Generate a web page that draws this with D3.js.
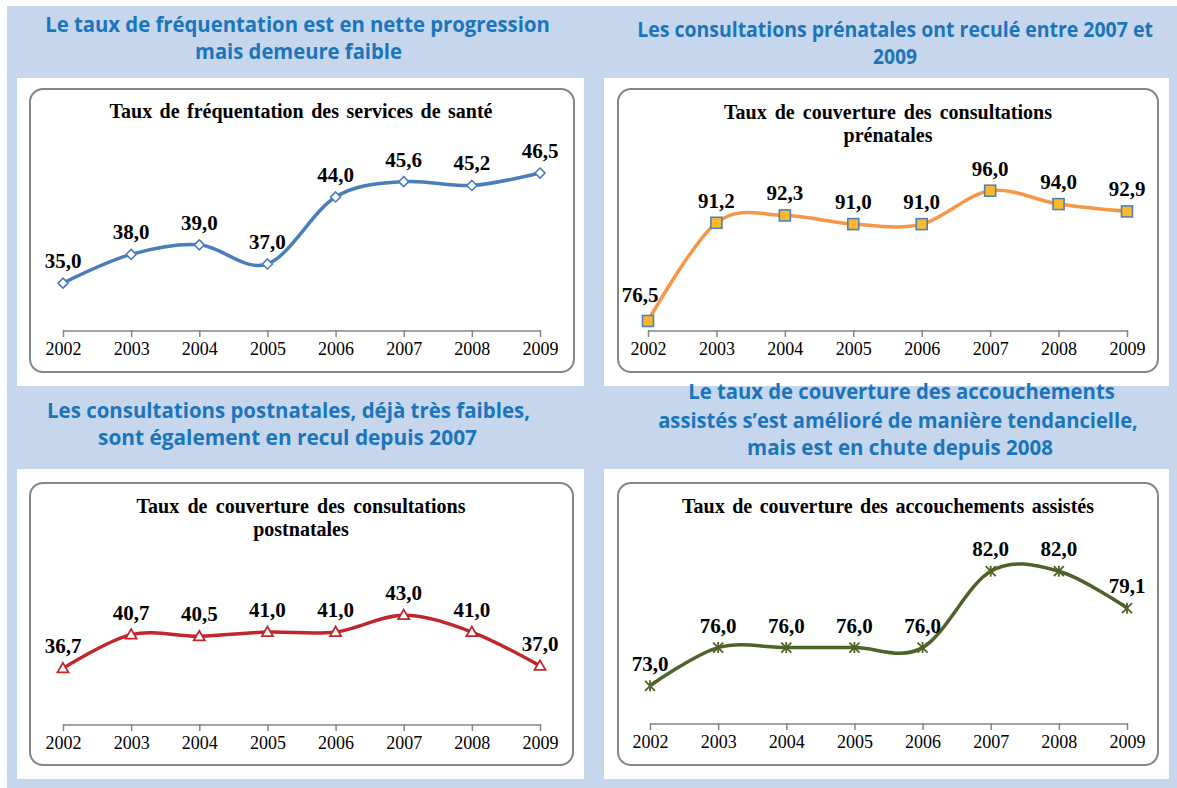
<!DOCTYPE html>
<html><head><meta charset="utf-8">
<script src="https://cdn.jsdelivr.net/npm/d3@7"></script>
<style>
html,body{margin:0;padding:0;background:#fff;}
svg{display:block;}
</style></head>
<body>
<svg id="c" width="1177" height="788"></svg>
<script>
// ---------- DATA ----------
const years = ["2002","2003","2004","2005","2006","2007","2008","2009"];
const frequentation = [35.0, 38.0, 39.0, 37.0, 44.0, 45.6, 45.2, 46.5];
const prenatales    = [76.5, 91.2, 92.3, 91.0, 91.0, 96.0, 94.0, 92.9];
const postnatales   = [36.7, 40.7, 40.5, 41.0, 41.0, 43.0, 41.0, 37.0];
const accouchements = [73.0, 76.0, 76.0, 76.0, 76.0, 82.0, 82.0, 79.1];

const headerTL = ["Le taux de fréquentation est en nette progression", "mais demeure faible"];
const headerTR = ["Les consultations prénatales ont reculé entre 2007 et", "2009"];
const headerBL = ["Les consultations postnatales, déjà très faibles,", "sont également en recul depuis 2007"];
const headerBR = ["Le taux de couverture des accouchements", "assistés s\u2019est amélioré de manière tendancielle,", "mais est en chute depuis 2008"];

const titleTL = ["Taux de fréquentation des services de santé"];
const titleTR = ["Taux de couverture des consultations", "prénatales"];
const titleBL = ["Taux de couverture des consultations", "postnatales"];
const titleBR = ["Taux de couverture des accouchements assistés"];

const domainTL = [30, 50];
const domainTR = [75, 100];
const domainBL = [30, 50];
const domainBR = [70, 85];

// ---------- LAYOUT ----------
const svg = d3.select("#c");
svg.append("rect").attr("x",7).attr("y",6).attr("width",1170).attr("height",782).attr("fill","#c6d6ec");

const headerColor = "#1b75bc";

const panels = [
  {white:[17,78,584,386], box:[30,89,574,372], axisY:331, x0:63, x1:540, topY:139.5,
   domain:domainTL, values:frequentation, title:titleTL, titleX:301, titleY:[118], titleW:[383],
   color:"#4a7ebb", marker:"diamond"},
  {white:[604,78,1169,386], box:[618,89,1158,372], axisY:331, x0:648, x1:1127, topY:164,
   domain:domainTR, values:prenatales, title:titleTR, titleX:888, titleY:[119,142], titleW:[328,88],
   color:"#f79646", marker:"square"},
  {white:[17,469,584,779], box:[30,483,573,765], axisY:725, x0:63, x1:540, topY:556,
   domain:domainBL, values:postnatales, title:titleBL, titleX:301, titleY:[513,536], titleW:[329,101],
   color:"#c0272d", marker:"triangle"},
  {white:[604,469,1169,779], box:[618,483,1158,765], axisY:724, x0:650, x1:1127, topY:533,
   domain:domainBR, values:accouchements, title:titleBR, titleX:888, titleY:[513], titleW:[412],
   color:"#4f6228", marker:"star"}
];

panels.forEach(p=>{
  svg.append("rect").attr("x",p.white[0]).attr("y",p.white[1])
    .attr("width",p.white[2]-p.white[0]).attr("height",p.white[3]-p.white[1]).attr("fill","#fff");
});

function header(lines, specs){
  lines.forEach((t,i)=>{
    const s = specs[i];
    const cx = (s[0]+s[1])/2;
    const gg = svg.append("g");
    const tx = gg.append("text").text(t)
      .attr("x",0).attr("y",0)
      .attr("text-anchor","middle")
      .attr("font-family","'Open Sans', sans-serif").attr("font-weight","bold")
      .attr("font-size",21).attr("fill",headerColor);
    const nat = tx.node().getComputedTextLength();
    const sx = (s[1]-s[0]) / nat;
    gg.attr("transform",`translate(${cx},${s[2]}) scale(${sx.toFixed(4)},1)`);
  });
}

header(headerTL, [[45,550,32],[195,402,59]]);
header(headerTR, [[637,1153,37],[873,917,64]]);
header(headerBL, [[47,530,418],[98,477,445]]);
header(headerBR, [[688,1115,399],[658,1138,428],[747,1053,455]]);

const fmt = v => d3.format(".1f")(v).replace(".", ",");
const serif = "'Liberation Serif', 'Times New Roman', serif";

panels.forEach((p,pi)=>{
  const g = svg.append("g");
  g.append("rect").attr("x",p.box[0]).attr("y",p.box[1])
    .attr("width",p.box[2]-p.box[0]).attr("height",p.box[3]-p.box[1])
    .attr("rx",13).attr("ry",13).attr("fill","#fff").attr("stroke","#868686").attr("stroke-width",2);

  p.title.forEach((t,i)=>{
    const tx = g.append("text").text(t).attr("x",p.titleX).attr("y",p.titleY[i])
      .attr("text-anchor","middle").attr("font-family",serif)
      .attr("font-weight","bold").attr("font-size",20).attr("fill","#000");
    const nat = tx.node().getComputedTextLength();
    const nSp = (t.match(/ /g)||[]).length;
    if(nSp>0 && p.titleW[i]>nat){
      tx.attr("word-spacing", ((p.titleW[i]-nat)/nSp).toFixed(2));
    }
  });

  const x = d3.scalePoint().domain(years).range([p.x0,p.x1]);
  const y = d3.scaleLinear().domain(p.domain).range([p.axisY,p.topY]);

  const axis = d3.axisBottom(x).tickSize(6).tickPadding(5);
  const ax = g.append("g").attr("transform",`translate(0,${p.axisY})`).call(axis);
  ax.select(".domain").attr("stroke","#868686").attr("stroke-width",1.5).attr("d",`M${p.x0},0H${p.x1}`);
  ax.selectAll(".tick line").attr("stroke","#868686").attr("stroke-width",1.5).attr("y1",-1);
  ax.selectAll(".tick text").attr("font-family",serif)
    .attr("font-size",18).attr("fill","#000").attr("dy","0.71em");

  const pts = years.map((yr,i)=>({yr, v:p.values[i]}));
  const line = d3.line().x(d=>x(d.yr)).y(d=>y(d.v)).curve(d3.curveCardinal.tension(0));
  g.append("path").datum(pts).attr("d",line).attr("fill","none")
    .attr("stroke",p.color).attr("stroke-width",3.5).attr("stroke-linejoin","round");

  const mk = g.selectAll(".mk").data(pts).enter().append("g")
    .attr("transform",d=>`translate(${x(d.yr)},${y(d.v)})`);
  if(p.marker==="diamond"){
    mk.append("path").attr("d","M0,-5L5,0L0,5L-5,0Z").attr("fill","#fff").attr("stroke","#4a7ebb").attr("stroke-width",1.6);
  } else if(p.marker==="square"){
    mk.append("rect").attr("x",-5.5).attr("y",-5.5).attr("width",11).attr("height",11)
      .attr("fill","#fdb827").attr("stroke","#4f81bd").attr("stroke-width",1.6);
  } else if(p.marker==="triangle"){
    mk.append("path").attr("d","M0,-5.5L5.5,4L-5.5,4Z").attr("fill","#fff").attr("stroke","#c0272d").attr("stroke-width",1.8);
  } else {
    mk.append("path").attr("d","M-5,-5L5,5M5,-5L-5,5M0,-5.5L0,5.5").attr("stroke","#4f6228").attr("stroke-width",1.8);
  }

  g.selectAll(".lbl").data(pts).enter().append("text")
    .text(d=>fmt(d.v))
    .attr("x",(d,i)=> x(d.yr) + (pi===1 && i===0 ? -8 : 0))
    .attr("y",(d,i)=> y(d.v) - 15 - (pi===1 && i===0 ? 4 : 0))
    .attr("text-anchor","middle")
    .attr("font-family",serif)
    .attr("font-weight","bold").attr("font-size",21).attr("fill","#000");
});
</script>
</body></html>
